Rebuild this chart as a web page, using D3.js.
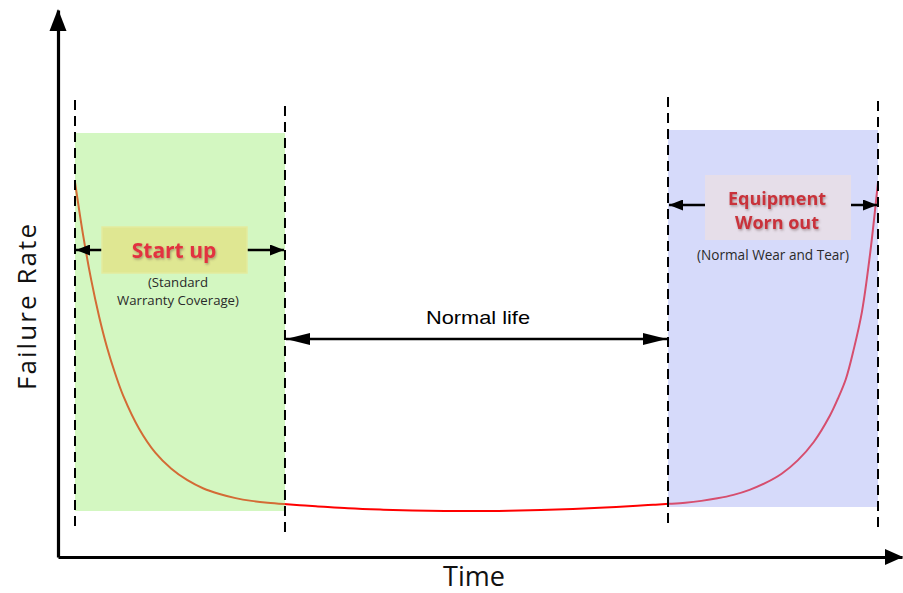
<!DOCTYPE html>
<html>
<head>
<meta charset="utf-8">
<script src="https://cdn.jsdelivr.net/npm/d3@7"></script>
<style>
  html, body { margin: 0; padding: 0; background: #fff; }
  svg { display: block; }
</style>
</head>
<body>
<svg id="chart" width="903" height="593"></svg>
<script>
// Bathtub curve: failure rate over equipment life
const timePoints = [0, 1, 2, 3, 4, 5, 6, 8, 10, 12, 14, 16, 18, 20, 22, 24, 26,
  28, 30, 34, 38, 42, 46, 50, 54, 58, 62, 66, 70, 72, 74,
  76, 78, 80, 82, 84, 86, 88, 90, 92, 94, 95, 96, 97, 98, 99, 100];
const failureRate = [81.5, 70.1, 60.4, 52.3, 45.5, 39.9, 35.1, 27.85, 22.7, 19.2, 16.7, 14.9, 13.7, 12.8, 12.2, 11.8, 11.5,
  11.25, 11.05, 10.6, 10.3, 10.1, 10.0, 10.0, 10.05, 10.2, 10.45, 10.75, 11.15, 11.35, 11.55,
  11.8, 12.2, 12.75, 13.5, 14.6, 16.1, 18.1, 21.0, 25.0, 30.7, 34.4, 38.7, 45.3, 53.3, 65.7, 81.5];

// Phase boundaries along the time axis
const phaseBounds = [0, 26.15, 73.85, 100];
const phaseNames = ["Start up", "Normal life", "Equipment Worn out"];
const phaseNotes = [["(Standard", "Warranty Coverage)"], [], ["(Normal Wear and Tear)"]];
const axisTitles = { x: "Time", y: "Failure Rate" };

const svg = d3.select("#chart");
const x = d3.scaleLinear().domain([0, 100]).range([75, 878]);
const y = d3.scaleLinear().domain([0, 100]).range([557, 97]);

const defs = svg.append("defs");
function marker(id, len, half) {
  defs.append("marker")
    .attr("id", id).attr("viewBox", `0 ${-half} ${len} ${half * 2}`)
    .attr("refX", len).attr("refY", 0)
    .attr("markerUnits", "userSpaceOnUse")
    .attr("markerWidth", len).attr("markerHeight", half * 2)
    .attr("orient", "auto-start-reverse")
    .append("path").attr("d", `M0,${-half}L${len},0L0,${half}Z`).attr("fill", "#000");
}
marker("head-long", 24, 6);
marker("head-short", 14, 5.5);

const shadow = defs.append("filter").attr("id", "txtShadow")
  .attr("x", "-10%").attr("y", "-20%").attr("width", "120%").attr("height", "140%");
shadow.append("feDropShadow").attr("dx", 1).attr("dy", 1.5).attr("stdDeviation", 1.2)
  .attr("flood-color", "#5a4040").attr("flood-opacity", 0.45);

// Curve
const line = d3.line()
  .x((d, i) => x(timePoints[i]))
  .y(d => y(d))
  .curve(d3.curveCatmullRom.alpha(0.5));
svg.append("path")
  .datum(failureRate)
  .attr("d", line)
  .attr("fill", "none")
  .attr("stroke", "#ff0000")
  .attr("stroke-width", 2);

// Translucent phase panels laid over the curve
svg.append("rect")
  .attr("x", x(phaseBounds[0])).attr("width", x(phaseBounds[1]) - x(phaseBounds[0]))
  .attr("y", 133).attr("height", 511 - 133)
  .attr("fill", "rgb(157,237,117)").attr("fill-opacity", 0.45);
svg.append("rect")
  .attr("x", x(phaseBounds[2])).attr("width", x(phaseBounds[3]) - x(phaseBounds[2]))
  .attr("y", 130).attr("height", 507 - 130)
  .attr("fill", "rgb(164,173,244)").attr("fill-opacity", 0.45);

// Dashed phase dividers
svg.selectAll("line.divider")
  .data(phaseBounds)
  .join("line")
  .attr("class", "divider")
  .attr("x1", d => x(d)).attr("x2", d => x(d))
  .attr("y1", (d, i) => [100, 106, 97, 101][i])
  .attr("y2", (d, i) => [532, 537, 529, 532][i])
  .attr("stroke", "#000").attr("stroke-width", 2)
  .attr("stroke-dasharray", "10,6");

// Axes
const xAxis = d3.axisBottom(d3.scaleLinear().range([58, 902])).tickValues([]).tickSizeOuter(0);
const yAxis = d3.axisLeft(d3.scaleLinear().range([557, 10])).tickValues([]).tickSizeOuter(0);
const gx = svg.append("g").attr("transform", "translate(0,557)").call(xAxis);
const gy = svg.append("g").attr("transform", "translate(58,0)").call(yAxis);
[gx, gy].forEach(g => g.select(".domain").attr("stroke", "#000").attr("stroke-width", 3.2));
// Arrow heads on the axes
svg.append("path").attr("d", "M903,557L885,549L885,565Z").attr("fill", "#000");
svg.append("path").attr("d", "M58,9L49.5,31L66.5,31Z").attr("fill", "#000");

// Axis titles
svg.append("text")
  .attr("x", 474).attr("y", 586)
  .attr("text-anchor", "middle")
  .style("font-family", "'Open Sans', sans-serif").style("font-size", "27px").attr("fill", "#111")
  .text(axisTitles.x);
svg.append("text")
  .attr("transform", "translate(36,307) rotate(-90)")
  .attr("text-anchor", "middle")
  .attr("textLength", 166).attr("lengthAdjust", "spacing")
  .style("font-family", "'Open Sans', sans-serif").style("font-size", "26px").attr("fill", "#111")
  .text(axisTitles.y);

// Span arrows for each phase
const arrowY = [250, 339, 205];
const heads = ["head-short", "head-long", "head-short"];
svg.selectAll("line.span")
  .data(phaseNames)
  .join("line")
  .attr("class", "span")
  .attr("x1", (d, i) => x(phaseBounds[i]) + 1)
  .attr("x2", (d, i) => x(phaseBounds[i + 1]) - 1)
  .attr("y1", (d, i) => arrowY[i]).attr("y2", (d, i) => arrowY[i])
  .attr("stroke", "#000").attr("stroke-width", 2.6)
  .attr("marker-start", (d, i) => `url(#${heads[i]})`)
  .attr("marker-end", (d, i) => `url(#${heads[i]})`);

// Start up label
svg.append("rect").attr("x", 102).attr("y", 227).attr("width", 145).attr("height", 46)
  .attr("fill", "#dfe792").attr("stroke", "#e3eb9e").attr("stroke-width", 1.5);
svg.append("text")
  .attr("x", 174).attr("y", 258).attr("text-anchor", "middle")
  .style("font-family", "'Open Sans', sans-serif").style("font-weight", "bold").style("font-size", "21px")
  .attr("fill", "#e2323f").attr("filter", "url(#txtShadow)")
  .text(phaseNames[0]);
svg.selectAll("text.note0")
  .data(phaseNotes[0])
  .join("text")
  .attr("class", "note0")
  .attr("x", 178).attr("y", (d, i) => 287 + i * 18).attr("text-anchor", "middle")
  .style("font-family", "'Open Sans', sans-serif").style("font-size", "13.2px").attr("fill", "#2a2a2a")
  .text(d => d);

// Normal life label
svg.append("text")
  .attr("x", 478).attr("y", 324).attr("text-anchor", "middle")
  .attr("textLength", 104).attr("lengthAdjust", "spacingAndGlyphs")
  .style("font-family", "'Liberation Sans', Arial, sans-serif").style("font-size", "19px").attr("fill", "#000")
  .text(phaseNames[1]);

// Equipment worn out label
svg.append("rect").attr("x", 705).attr("y", 175).attr("width", 146).attr("height", 65)
  .attr("fill", "#e6dee9");
svg.selectAll("text.worn")
  .data(["Equipment", "Worn out"])
  .join("text")
  .attr("class", "worn")
  .attr("x", 777).attr("y", (d, i) => 205 + i * 24).attr("text-anchor", "middle")
  .style("font-family", "'Open Sans', sans-serif").style("font-weight", "bold").style("font-size", "18px")
  .attr("fill", "#c9333b").attr("filter", "url(#txtShadow)")
  .text(d => d);
svg.selectAll("text.note2")
  .data(phaseNotes[2])
  .join("text")
  .attr("class", "note2")
  .attr("x", 773).attr("y", 260).attr("text-anchor", "middle")
  .style("font-family", "'Open Sans', sans-serif").style("font-size", "13.6px").attr("fill", "#2a2a2a")
  .text(d => d);
</script>
</body>
</html>
